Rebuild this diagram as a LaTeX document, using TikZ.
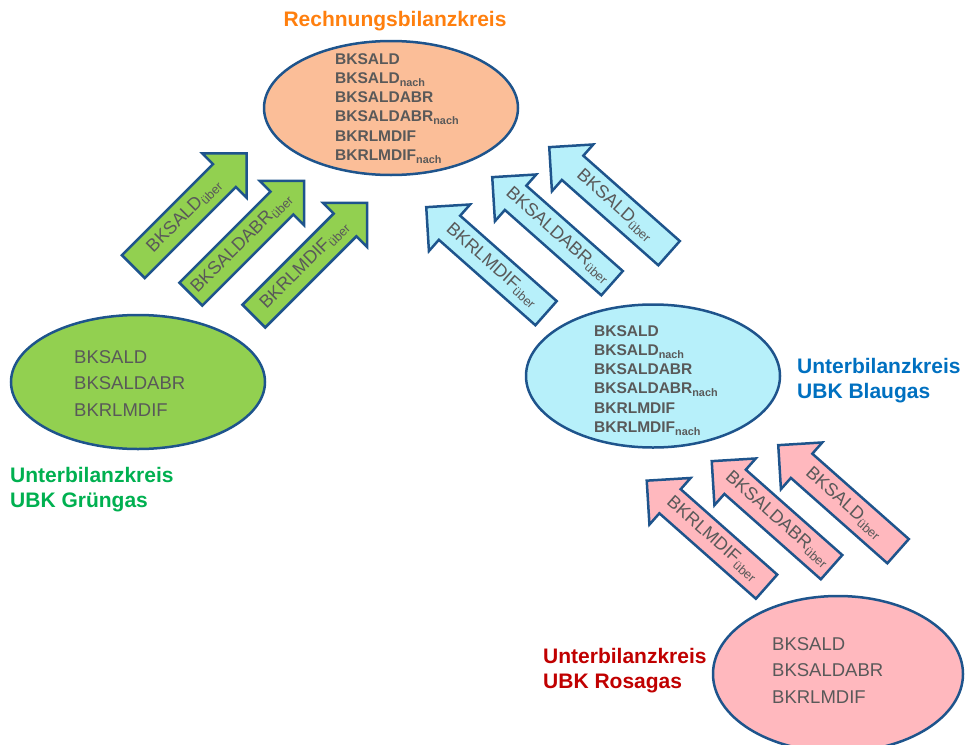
\documentclass[tikz,border=0pt]{standalone}
\usepackage{fontspec}
\setmainfont{Liberation Sans}
\usepackage{xcolor}
\usetikzlibrary{
  shapes.geometric,
  shapes.arrows
}

\definecolor{rand}{RGB}{30,84,140}
\definecolor{schrift}{RGB}{89,89,89}
\definecolor{rbkfill}{RGB}{251,190,152}
\definecolor{gruenfill}{RGB}{146,208,80}
\definecolor{gruentext}{RGB}{0,176,80}
\definecolor{blaufill}{RGB}{183,240,250}
\definecolor{blautext}{RGB}{0,112,192}
\definecolor{rosafill}{RGB}{255,184,190}
\definecolor{rosatext}{RGB}{192,0,0}
\definecolor{titel}{RGB}{255,127,14}

\tikzset{
  kreis/.style={
    ellipse,
    draw=rand,
    line width=2.5pt,
    minimum width=254pt,
    minimum height=134pt,
    inner sep=0pt},
  fettliste/.style={
    align=left,
    anchor=north west,
    text=schrift,
    inner sep=0pt,
    font=\fontsize{15.5}{19.3}\selectfont\bfseries},
  liste/.style={
    align=left,
    anchor=north west,
    text=schrift,
    inner sep=0pt,
    font=\fontsize{18.5}{26.5}\selectfont},
  ubk/.style={
    align=left,
    anchor=north west,
    inner sep=0pt,
    font=\fontsize{21}{25.5}\selectfont\bfseries},
  pfeil/.style={
    single arrow,
    draw=rand,
    line width=2.5pt,
    text=schrift,
    minimum height=160pt,
    minimum width=60pt,
    single arrow head extend=15pt,
    inner xsep=0pt,
    inner ysep=7pt,
    anchor=tail,
    font=\fontsize{18}{20}\selectfont},
  gpfeil/.style={pfeil, fill=gruenfill, rotate=45},
  lpfeil/.style={pfeil, rotate=-41.5, shape border rotate=180}
  }

\begin{document}
\begin{tikzpicture}[x=1pt, y=-1pt]
		\useasboundingbox (0,0) rectangle (966,744);
		% Rechnungsbilanzkreis
		\node [font=\fontsize{21}{25}\selectfont\bfseries, text=titel, anchor=north, inner sep=0pt] (titel) at (395,11) {Rechnungsbilanzkreis};
		\node [kreis, fill=rbkfill] (rbk) at (391,108) {};
		\node [fettliste] (rbkliste) at (335,53) {BKSALD\\BKSALD\textsubscript{nach}\\BKSALDABR\\BKSALDABR\textsubscript{nach}\\BKRLMDIF\\BKRLMDIF\textsubscript{nach}};
		% UBK Gruengas
		\node [kreis, fill=gruenfill] (gruen) at (138,382) {};
		\node [liste] (gruenliste) at (74,350) {BKSALD\\BKSALDABR\\BKRLMDIF};
		\node [ubk, text=gruentext] (gruenname) at (10,467) {Unterbilanzkreis\\UBK Grüngas};
		\node [gpfeil] (g1) at (132.5,267.5) {BKSALD\textsubscript{über}};
		\node [gpfeil] (g2) at (190,295) {BKSALDABR\textsubscript{über}};
		\node [gpfeil] (g3) at (253,317) {BKRLMDIF\textsubscript{über}};
		% UBK Blaugas
		\node [kreis, fill=blaufill, minimum height=143pt] (blau) at (653,376) {};
		\node [fettliste] (blauliste) at (594,325) {BKSALD\\BKSALD\textsubscript{nach}\\BKSALDABR\\BKSALDABR\textsubscript{nach}\\BKRLMDIF\\BKRLMDIF\textsubscript{nach}};
		\node [ubk, text=blautext] (blauname) at (797,358) {Unterbilanzkreis\\UBK Blaugas};
		\node [lpfeil, fill=blaufill] (b1) at (670,254) {BKSALD\textsubscript{über}};
		\node [lpfeil, fill=blaufill] (b2) at (613,284) {BKSALDABR\textsubscript{über}};
		\node [lpfeil, fill=blaufill] (b3) at (547,314) {BKRLMDIF\textsubscript{über}};
		% UBK Rosagas
		\node [kreis, fill=rosafill, minimum width=250pt, minimum height=156pt] (rosa) at (838,674) {};
		\node [liste] (rosaliste) at (772,637) {BKSALD\\BKSALDABR\\BKRLMDIF};
		\node [ubk, text=rosatext] (rosaname) at (543,648) {Unterbilanzkreis\\UBK Rosagas};
		\node [lpfeil, fill=rosafill] (p1) at (899,552) {BKSALD\textsubscript{über}};
		\node [lpfeil, fill=rosafill] (p2) at (832.5,568) {BKSALDABR\textsubscript{über}};
		\node [lpfeil, fill=rosafill] (p3) at (767.5,587.5) {BKRLMDIF\textsubscript{über}};
	\end{tikzpicture}
\end{document}
